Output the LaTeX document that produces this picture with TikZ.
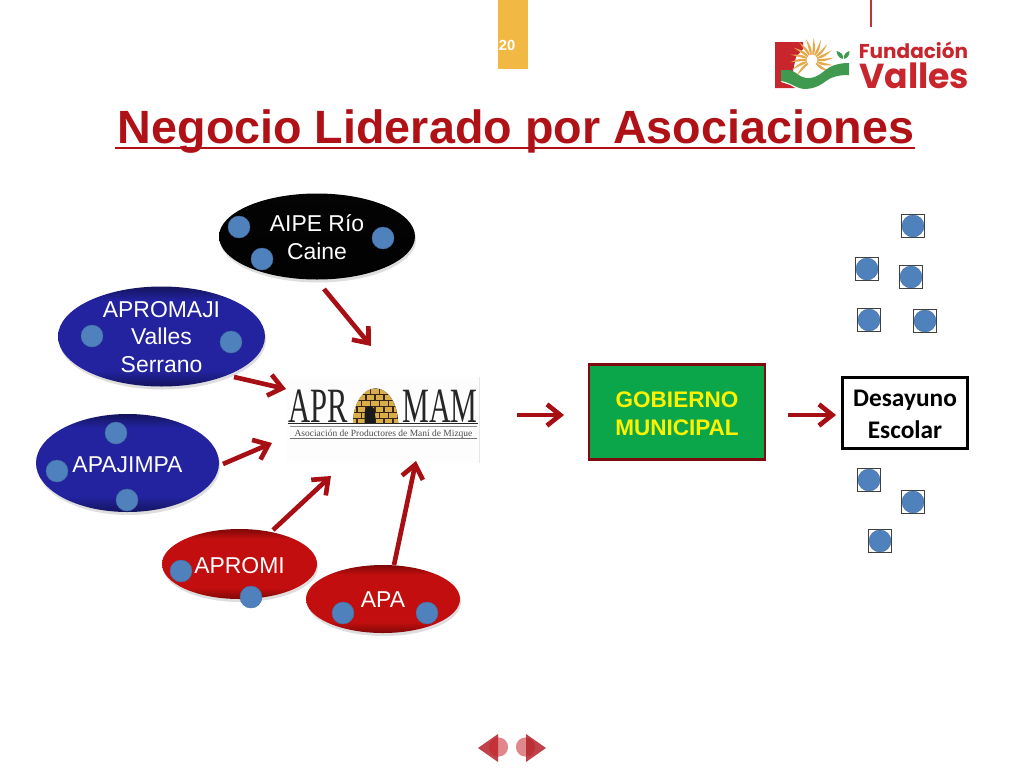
\documentclass[tikz,border=0pt]{standalone}
\usepackage{fontspec}
\setmainfont{Liberation Sans}
\newfontfamily\carlitofont{Carlito}
\newfontfamily\serifont{Liberation Serif}
\newfontfamily\logofont{Poppins}
\usetikzlibrary{arrows.meta}
\definecolor{arrowred}{HTML}{A80F14}
\definecolor{titlered}{HTML}{B01116}
\definecolor{dotblue}{HTML}{4F81BD}
\definecolor{tabgold}{HTML}{F2B844}
\definecolor{boxgreen}{HTML}{0BA64A}
\definecolor{logored}{HTML}{C8252D}
\definecolor{logogreen}{HTML}{3F9A50}
\definecolor{sunyellow}{HTML}{E3A94A}
\definecolor{brick}{HTML}{D9AE4A}
\definecolor{bluedark}{HTML}{14145E}
\definecolor{bluemid}{HTML}{2323A0}
\definecolor{reddark}{HTML}{7E0808}
\definecolor{redmid}{HTML}{C20E0E}
\definecolor{blackmid}{HTML}{050505}
\pgfdeclareverticalshading{blueball}{100bp}{color(0bp)=(bluedark); color(25bp)=(bluedark); color(33bp)=(bluemid); color(68bp)=(bluemid); color(75bp)=(bluedark); color(100bp)=(bluedark)}
\pgfdeclareverticalshading{redball}{100bp}{color(0bp)=(reddark); color(25bp)=(reddark); color(33bp)=(redmid); color(68bp)=(redmid); color(75bp)=(reddark); color(100bp)=(reddark)}
\pgfdeclareverticalshading{blackball}{100bp}{color(0bp)=(black); color(100bp)=(blackmid)}
\tikzset{
 x=0.75pt,y=-0.75pt,
 bubble/.style={draw=none,text=white,font=\fontsize{17.2}{20.6}\selectfont,align=center},
 flow/.style={draw=arrowred,line width=3.5pt,-{Straight Barb[length=10pt,width=16pt,line width=3.5pt]}},
 dotc/.style={circle,fill=dotblue,draw=dotblue!85!black,line width=0.3pt,inner sep=0pt,minimum size=16.5pt},
 sq/.style={draw=black!75,line width=1.2pt,fill=white,inner sep=0pt,minimum size=17.5pt},
}
\newcommand{\bub}[6]{% name,cx,cy,rx,ry,shading
 \fill[black,opacity=0.13] (#2+1,#3+3) ellipse [x radius=#4*0.75pt,y radius=#5*0.75pt];
 \shade[shading=#6] (#2,#3) ellipse [x radius=#4*0.75pt,y radius=#5*0.75pt];
 \coordinate (#1) at (#2,#3);
}
\begin{document}
\begin{tikzpicture}
\useasboundingbox (0,0) rectangle (1024,768);
\fill[white] (0,0) rectangle (1024,768);
% top tab
\node[fill=tabgold,minimum width=22.5pt,minimum height=51.75pt,inner sep=0pt] (tab) at (513,34.5) {};
\node[text=white,font=\bfseries\fontsize{11}{12}\selectfont,inner sep=0pt] (pagenum) at (507,45.5) {20};
\coordinate (rulea) at (871,0); \coordinate (ruleb) at (871,27);
\draw[color=titlered!85!white,line width=0.9pt] (rulea)--(ruleb);
% foundation logo
\fill[logored] (775,42)--(803,42)--(803,49)--(796,57)--(793,71)--(781,71)--(781,82)--(790,85)--(795,88)--(775,88)--cycle;
\foreach \a in {-40,-20,...,230}{
 \fill[sunyellow] ({812+5.5*cos(\a-8)},{60-5.5*sin(\a-8)}) .. controls ({812+12*cos(\a-8)},{60-12*sin(\a-8)}) .. ({812+22*cos(\a+6)},{60-22*sin(\a+6)}) .. controls ({812+13*cos(\a+8)},{60-13*sin(\a+8)}) .. ({812+5.5*cos(\a+8)},{60-5.5*sin(\a+8)}) -- cycle;
}
\fill[logogreen] (781,70) -- (790,70) .. controls (795,71) and (799,77) .. (806,78) .. controls (817,79) and (822,72) .. (830,67) .. controls (836,64) and (842,63) .. (849,63) -- (849,75) .. controls (840,75) and (833,76) .. (826,81) .. controls (820,86) and (812,89) .. (805,89) .. controls (797,89) and (790,82) .. (781,81) -- cycle;
\fill[logogreen] (843,59) .. controls (838,58) and (837,54) .. (836.5,51) .. controls (840,52) and (844,54) .. (843,59) -- cycle;
\fill[logogreen] (844,59) .. controls (843,55) and (846,52) .. (849.5,51) .. controls (849.5,55) and (848,58) .. (844,59) -- cycle;
\node[text=logored,font=\logofont\bfseries\fontsize{15}{18}\selectfont,anchor=base west,inner sep=0pt] (fundacion) at (858.5,58) {Fundación};
\node[text=logored,font=\logofont\bfseries\fontsize{26}{28}\selectfont,anchor=base west,inner sep=0pt] (valles) at (859,88) {Valles};
% title
\node[text=titlered,font=\bfseries\fontsize{35}{40}\selectfont,anchor=base,inner sep=0pt] (title) at (516,143) {Negocio Liderado por Asociaciones};
\coordinate (ula) at (115,148); \coordinate (ulb) at (915,148);
\draw[titlered,line width=2.2pt] (ula)--(ulb);
% ellipses
\bub{aipe}{317}{236.5}{98}{43}{blackball}
\bub{maji}{161.5}{336.5}{103.5}{50}{blueball}
\bub{jimpa}{127.5}{463}{91.5}{49}{blueball}
\bub{apromi}{239.5}{564}{77.5}{35}{redball}
\bub{apa}{383}{599}{77}{34}{redball}
\node[bubble] (taipe) at (317,237) {AIPE Río\\Caine};
\node[bubble] (tmaji) at (161.5,337) {APROMAJI\\Valles\\Serrano};
\node[bubble] (tjimpa) at (127.5,465) {APAJIMPA};
\node[bubble] (tapromi) at (239.5,565.5) {APROMI};
\node[bubble] (tapa) at (383,600) {APA};
% dots on ellipses
\foreach \n/\px/\py in {a/239/227,b/262/259,c/383/238,d/92/336,e/231/342,f/116/433,g/57/471,h/127/500,i/181/571,j/251/597,k/343/613,l/427/613}
 \node[dotc] (dot\n) at (\px,\py) {};
% APROMAM logo
\node[fill=black!0.7,minimum width=144pt,minimum height=65pt,inner sep=0pt] (logo) at (383,420) {};
\coordinate (logoa) at (479,377); \coordinate (logob) at (479,463);
\draw[black!10,line width=0.6pt] (logoa)--(logob);
\node[font=\serifont\fontsize{37}{40}\selectfont,text=black!85,anchor=base west,inner sep=0pt] (apr) at (288,422) {\scalebox{0.62}[1]{APR}};
\node[font=\serifont\fontsize{37}{40}\selectfont,text=black!85,anchor=base east,inner sep=0pt] (mam) at (478,422) {\scalebox{0.61}[1]{MAM}};
\fill[black!70!brown] (353,423) arc[start angle=180,end angle=0,x radius=16.9pt,y radius=26pt] -- cycle;
\begin{scope}
\clip (353,423) arc[start angle=180,end angle=0,x radius=16.9pt,y radius=26pt] -- cycle;
\foreach \r/\ry in {389/0,395/1,401/0,407/1,413/0,419/1}{
 \foreach \c in {344,353,...,408}{
  \fill[brick] ({\c+4.5*\ry},\r) rectangle ++(7.6,4.6);
 }
}
\end{scope}
\fill[black!90] (364.5,423) -- (364.5,414) arc[start angle=180,end angle=0,x radius=4pt,y radius=6pt] -- (375.5,423) -- cycle;
\coordinate (thicka) at (288,423.5); \coordinate (thickb) at (478,423.5);
\draw[black!85,line width=1.3pt] (thicka)--(thickb);
\coordinate (graya) at (290,426.5); \coordinate (grayb) at (477,426.5);
\draw[black!45,line width=0.7pt] (graya)--(grayb);
\node[font=\serifont\fontsize{7.1}{8}\selectfont,text=black!70,anchor=base,inner sep=0pt] (assoc) at (383.5,436) {Asociación de Productores de Maní de Mizque};
\coordinate (linea) at (290,438.5); \coordinate (lineb) at (477,438.5);
\draw[black!55,line width=0.5pt] (linea)--(lineb);
% boxes
\node[draw=arrowred!75!black,line width=1.9pt,fill=boxgreen,minimum width=132pt,minimum height=71pt,inner sep=0pt] (gob) at (677,412) {};
\node[align=center,text=yellow,font=\bfseries\fontsize{16.9}{21}\selectfont,inner sep=0pt] (tgob) at (677,413.5) {GOBIERNO\\MUNICIPAL};
\node[draw=black,line width=2.2pt,fill=white,minimum width=93.5pt,minimum height=53pt,inner sep=0pt] (des) at (905,413) {};
\node[align=center,font=\carlitofont\bfseries\fontsize{19}{24}\selectfont,inner sep=0pt] (tdes) at (905,414) {Desayuno\\Escolar};
% squares
\foreach \n/\px/\py in {a/913/226,b/867/269,c/911/277,d/869/320,e/925/321,f/869/480,g/913/502,h/880/541}{
 \node[sq] (sq\n) at (\px,\py) {};
 \node[dotc] (sd\n) at (\px,\py) {};
}
% arrows
\coordinate (a1s) at (324,289); \coordinate (a1e) at (371,346);
\coordinate (a2s) at (234,377); \coordinate (a2e) at (286,389);
\coordinate (a3s) at (223,464); \coordinate (a3e) at (272,443);
\coordinate (a4s) at (273,530); \coordinate (a4e) at (331,476);
\coordinate (a5s) at (394,565); \coordinate (a5e) at (416,461);
\coordinate (a6s) at (517,415); \coordinate (a6e) at (564,415);
\coordinate (a7s) at (788,415); \coordinate (a7e) at (836,415);
\foreach \i in {1,...,7}{\draw[flow] (a\i s)--(a\i e);}
% nav
\fill[logored!90!black,opacity=0.85] (478,748)--(498,734)--(498,762)--cycle;
\fill[logored,opacity=0.55] (498.5,747) circle[radius=7.2pt];
\fill[logored,opacity=0.55] (525.5,747) circle[radius=7.2pt];
\fill[logored!90!black,opacity=0.85] (546,748)--(526,734)--(526,762)--cycle;
\end{tikzpicture}
\end{document}
